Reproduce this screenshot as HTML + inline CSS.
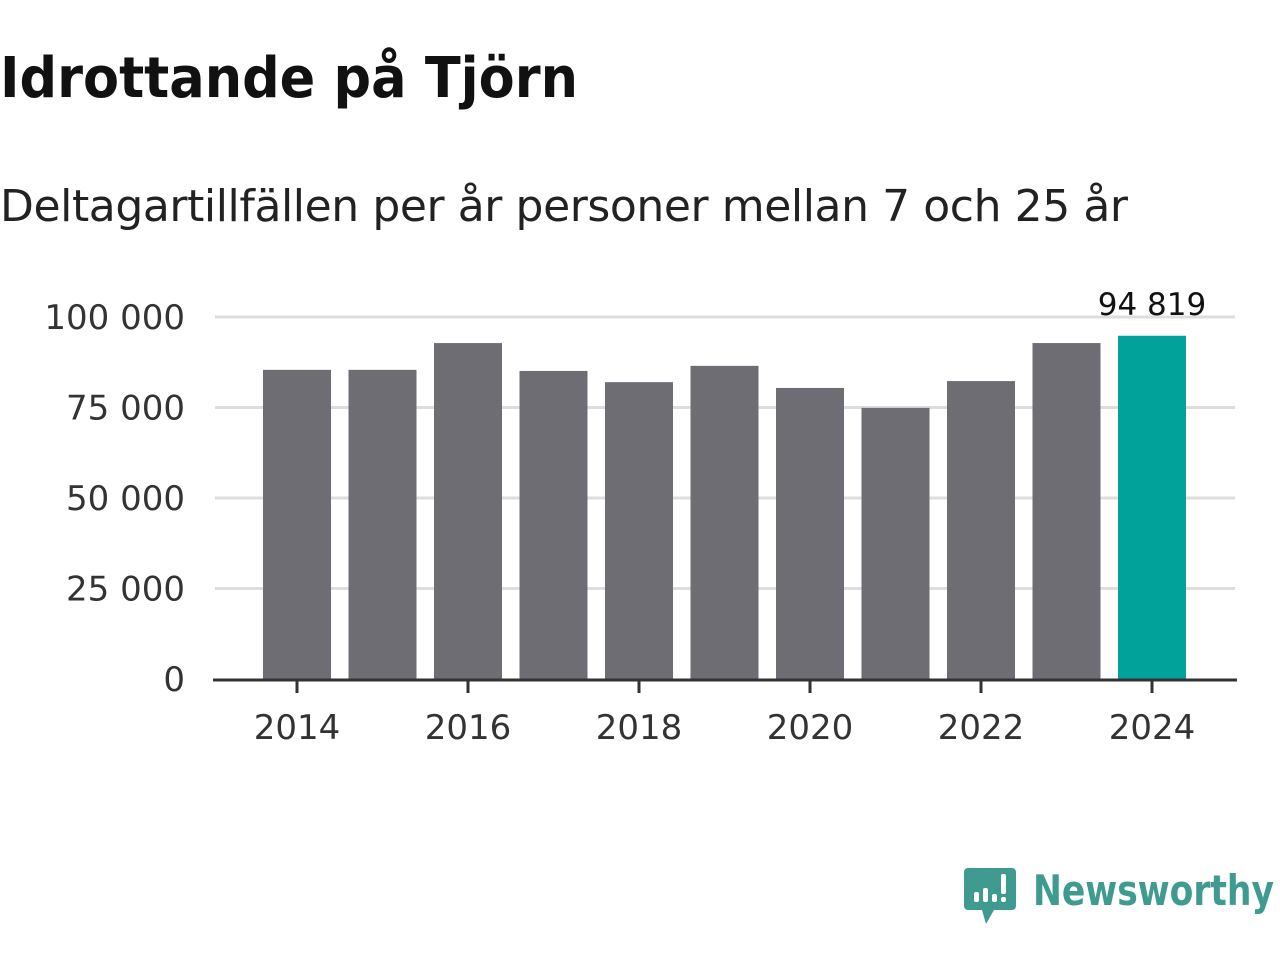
<!DOCTYPE html>
<html><head><meta charset="utf-8"><style>
body{margin:0;background:#fff;width:1280px;height:960px;overflow:hidden;font-family:"Liberation Sans","DejaVu Sans",sans-serif}
</style></head><body>
<svg width="1280" height="960">
<text x="0" y="97" font-size="56" font-weight="bold" fill="#111" font-family="DejaVu Sans, sans-serif" textLength="578" lengthAdjust="spacingAndGlyphs">Idrottande på Tjörn</text>
<text x="0" y="221" font-size="44" fill="#222" font-family="DejaVu Sans, sans-serif" textLength="1128">Deltagartillfällen per år personer mellan 7 och 25 år</text>
<g id="grid"></g><g id="bars"></g><g id="axis"></g>
<g>
<path d="M968 868 h44 a4 4 0 0 1 4 4 v34 a4 4 0 0 1 -4 4 h-18 l-8 14 l-4 -14 h-14 a4 4 0 0 1 -4 -4 v-34 a4 4 0 0 1 4 -4z" fill="#3f9a8f"/>
<rect x="974" y="892" width="5" height="10" rx="2" fill="#fff"/><rect x="983" y="888" width="5" height="14" rx="2" fill="#fff"/><rect x="992" y="894" width="5" height="8" rx="2" fill="#fff"/><rect x="1001" y="874" width="5" height="20" rx="2" fill="#fff"/><rect x="1001" y="897" width="5" height="5" rx="2" fill="#fff"/>
<text x="1033" y="905" font-size="42" font-weight="bold" fill="#3f9a8f" font-family="DejaVu Sans, sans-serif" textLength="241" lengthAdjust="spacingAndGlyphs">Newsworthy</text>
</g>
</svg>
<script>
const years=[2014,2015,2016,2017,2018,2019,2020,2021,2022,2023,2024];
const values=[85400,85400,92800,85100,82000,86500,80400,74900,82300,92800,94819];
const yTicks=[0,25000,50000,75000,100000];
const yLabels=["0","25 000","50 000","75 000","100 000"];
const xTickYears=[2014,2016,2018,2020,2022,2024];
const NS="http://www.w3.org/2000/svg";
const y=v=>679-v*0.00362;
const x=yr=>297+(yr-2014)*85.5;
const bw=68;
function mk(t,a,p){const e=document.createElementNS(NS,t);for(const k in a)e.setAttribute(k,a[k]);p.appendChild(e);return e;}
const grid=document.getElementById('grid'),bars=document.getElementById('bars'),axis=document.getElementById('axis');
yTicks.forEach((v,i)=>{
 if(v>0){const l=mk('line',{x1:215,x2:1235,y1:y(v),y2:y(v),stroke:'#dddddd','stroke-width':3},grid);
 
 }
 const t=mk('text',{x:185,y:y(v)+12,'text-anchor':'end','font-size':34,fill:'#333','font-family':'DejaVu Sans, sans-serif'},axis);
 t.textContent=yLabels[i];
 
 
});
years.forEach((yr,i)=>{
 const last=i===years.length-1;
 const r=mk('rect',{x:x(yr)-bw/2,y:y(values[i]),width:bw,height:679-y(values[i]),fill:last?'#00a29a':'#6e6d74'},bars);
 
 
 if(last){const t=mk('text',{x:x(yr),y:y(values[i])-21,'text-anchor':'middle','font-size':31,fill:'#111','font-family':'DejaVu Sans, sans-serif'},bars);
 t.textContent=values[i].toString().replace(/\B(?=(\d{3})+(?!\d))/g,' ');
 
 }
});
const ax=mk('line',{x1:213,x2:1237,y1:680,y2:680,stroke:'#333','stroke-width':3},axis);


xTickYears.forEach(yr=>{
 const tk=mk('line',{x1:x(yr),x2:x(yr),y1:680,y2:693,stroke:'#333','stroke-width':3},axis);
 
 
 const t=mk('text',{x:x(yr),y:739,'text-anchor':'middle','font-size':34,fill:'#333','font-family':'DejaVu Sans, sans-serif'},axis);
 t.textContent=yr;
 
 
});
</script>
</body></html>
